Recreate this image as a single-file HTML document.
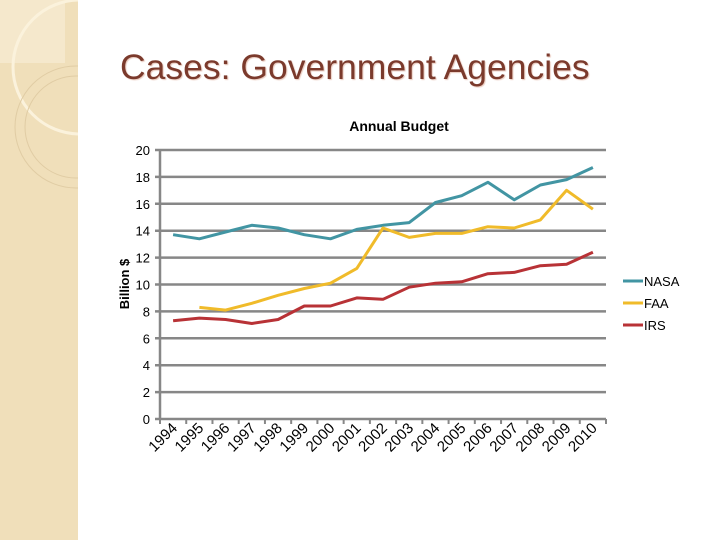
<!DOCTYPE html>
<html><head><meta charset="utf-8"><style>
body{margin:0;width:720px;height:540px;background:#fff;position:relative;overflow:hidden;font-family:"Liberation Sans",sans-serif;}
#side{position:absolute;left:0;top:0;width:78px;height:540px;background:#f0dfba;}
#title{position:absolute;left:120px;top:47px;font-size:35.5px;color:#7b3a2c;white-space:nowrap;text-shadow:1px 1px 1px #e8c8bc;}
</style></head><body>
<div id="side">
<svg width="78" height="540">
<rect x="0" y="0" width="65" height="63" fill="#f5e8cc"/>
<circle cx="80" cy="67" r="67" fill="none" stroke="#fbf2dc" stroke-width="3"/>
<circle cx="76" cy="127" r="61" fill="none" stroke="#e0cca4" stroke-width="1"/>
<circle cx="76" cy="127" r="51" fill="none" stroke="#e0cca4" stroke-width="1"/>
</svg></div>
<div id="title">Cases: Government Agencies</div>
<svg id="chart" width="720" height="540" style="position:absolute;left:0;top:0"></svg>
<script>
const years=["1994","1995","1996","1997","1998","1999","2000","2001","2002","2003","2004","2005","2006","2007","2008","2009","2010"];
const nasa=[13.7,13.4,13.9,14.4,14.2,13.7,13.4,14.1,14.4,14.6,16.1,16.6,17.6,16.3,17.4,17.8,18.7];
const faa=[null,8.3,8.1,8.6,9.2,9.7,10.1,11.2,14.2,13.5,13.8,13.8,14.3,14.2,14.8,17.0,15.6];
const irs=[7.3,7.5,7.4,7.1,7.4,8.4,8.4,9.0,8.9,9.8,10.1,10.2,10.8,10.9,11.4,11.5,12.4];
const yTicks=[0,2,4,6,8,10,12,14,16,18,20];
const NS="http://www.w3.org/2000/svg";
const svg=document.getElementById('chart');
const L=160,R=606,T=150,B=419,yMax=20;
const step=(R-L)/years.length;
const xs=i=>L+step*(i+0.5);
const ys=v=>B-(v/yMax)*(B-T);
function mk(tag,at,txt){const e=document.createElementNS(NS,tag);for(const k in at)e.setAttribute(k,at[k]);if(txt!=null)e.textContent=txt;svg.appendChild(e);return e;}
let e=mk('text',{x:399,y:131,'text-anchor':'middle','font-size':14,'font-weight':'bold',fill:'#000'},'Annual Budget');


yTicks.forEach(v=>{
 const g=mk('line',{x1:L-5,x2:R,y1:ys(v),y2:ys(v),stroke:'#878787','stroke-width':2.5});
 
 
 const t=mk('text',{x:L-10,y:ys(v)+5,'text-anchor':'end','font-size':13,fill:'#000'},String(v));
 
 
});
e=mk('line',{x1:L,x2:L,y1:T,y2:B,stroke:'#878787','stroke-width':2.5});


for(let i=0;i<=years.length;i++){
 const tk=mk('line',{x1:L+step*i,x2:L+step*i,y1:B,y2:B+5,stroke:'#878787','stroke-width':2});
 
 
}
years.forEach((y,i)=>{
 const x=xs(i)+5,yy=B+10;
 const t=mk('text',{x:x,y:yy,'text-anchor':'end','font-size':15,fill:'#000',transform:`rotate(-45 ${x} ${yy})`},y);
 
 
});
e=mk('text',{x:0,y:0,'font-size':13,'font-weight':'bold','text-anchor':'middle',transform:'translate(129 284) rotate(-90)'},'Billion $');


const series=[["NASA",nasa,"#4295a3"],["FAA",faa,"#f0bb2a"],["IRS",irs,"#b83236"]];
series.forEach(([n,d,c],k)=>{
 let p="";d.forEach((v,i)=>{if(v==null)return;p+=(p?"L":"M")+xs(i).toFixed(1)+","+ys(v).toFixed(1);});
 const l=mk('path',{d:p,fill:'none',stroke:c,'stroke-width':3,'stroke-linejoin':'round'});
 
 
 const ly=281+k*22;
 const ll=mk('line',{x1:623,x2:643,y1:ly,y2:ly,stroke:c,'stroke-width':3});
 
 
 const lt=mk('text',{x:644,y:ly+5,'font-size':13,fill:'#000'},n);
 
 
});
</script>
</body></html>
